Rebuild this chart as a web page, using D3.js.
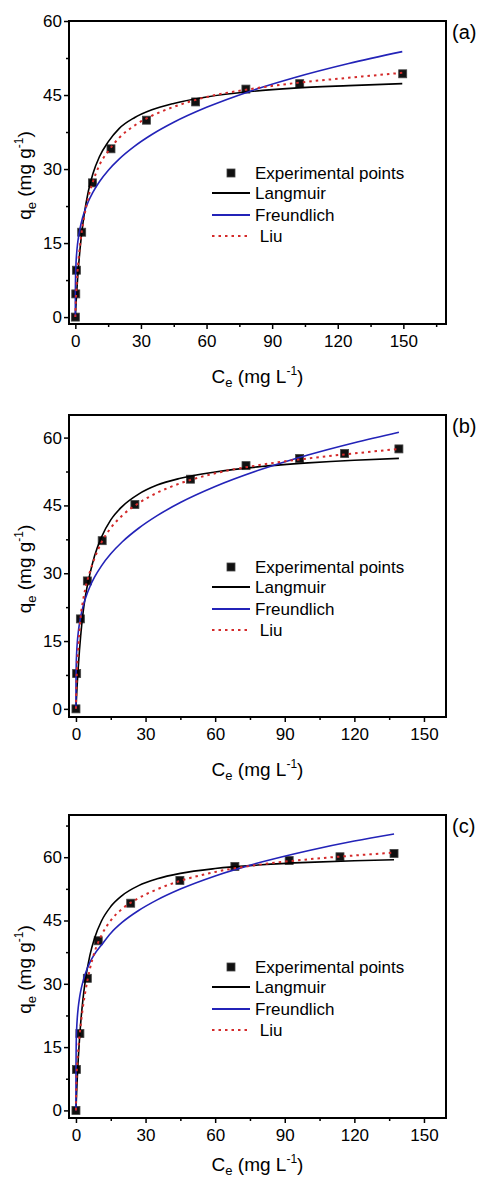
<!DOCTYPE html>
<html><head><meta charset="utf-8">
<script src="https://cdn.jsdelivr.net/npm/d3@7"></script>
<style>html,body{margin:0;padding:0;background:#fff;} svg{display:block;}</style>
</head><body><svg id="chart" width="481" height="1178"></svg>
<script>
// ---------- DATA ----------
const xTicks = [0, 30, 60, 90, 120, 150];
const xMinorTicks = [15, 45, 75, 105, 135, 165];
const yTicks = [0, 15, 30, 45, 60];
const yMinorTicks = [7.5, 22.5, 37.5, 52.5, 67.5];
const panelLabels = ["(a)", "(b)", "(c)"];
const seriesNames = ["Experimental points", "Langmuir", "Freundlich", " Liu"];

// (a)
const expC_a = [0, 0.2, 0.5, 2.9, 7.8, 16.3, 32.5, 55.0, 78.0, 102.6, 149.7];
const expQ_a = [0, 4.7, 9.5, 17.2, 27.2, 34.1, 39.9, 43.6, 46.2, 47.3, 49.3];
const fitC_a = [0, 0.01, 0.1, 0.3, 0.6, 1, 1.5, 2, 3, 4, 6, 8, 11, 15, 20, 27, 35, 45, 60, 80, 100, 125, 149.5];
const langmuir_a = [0, 0.09, 0.88, 2.54, 4.83, 7.55, 10.52, 13.09, 17.32, 20.66, 25.6, 29.0, 32.5, 35.5, 38.2, 40.4, 42.0, 43.3, 44.6, 45.7, 46.4, 46.9, 47.3];
const freundlich_a = [0, 4.5, 8.16, 10.83, 12.95, 14.78, 16.41, 17.67, 19.62, 21.13, 23.47, 25.27, 27.44, 29.72, 32.01, 34.59, 36.99, 39.47, 42.5, 45.78, 48.49, 51.37, 53.79];
const liu_a = [0, 0.3, 1.5, 3.8, 6.5, 9.2, 11.8, 14, 17.5, 20.2, 24.4, 27.4, 30.8, 33.6, 36.3, 38.8, 40.8, 42.6, 44.6, 46.2, 47.4, 48.5, 49.5];

// (b)
const expC_b = [0, 0.3, 1.9, 4.9, 11.3, 25.4, 49.4, 73.3, 96.4, 115.8, 139.2];
const expQ_b = [0, 7.8, 19.9, 28.3, 37.2, 45.2, 50.8, 53.8, 55.4, 56.5, 57.5];
const fitC_b = [0, 0.01, 0.1, 0.3, 0.6, 1, 1.5, 2, 3, 4, 6, 8, 11, 15, 20, 27, 35, 45, 60, 80, 100, 120, 139.2];
const langmuir_b = [0, 0.11, 1.08, 3.13, 5.94, 9.27, 12.87, 15.96, 21.02, 24.7, 29.8, 33.8, 38.0, 41.8, 44.8, 47.5, 49.5, 51.0, 52.4, 53.6, 54.4, 55.0, 55.4];
const freundlich_b = [0, 5.12, 9.32, 12.4, 14.85, 16.96, 18.85, 20.31, 22.57, 24.32, 27.02, 29.12, 31.63, 34.29, 36.96, 39.95, 42.74, 45.63, 49.17, 52.99, 56.16, 58.88, 61.2];
const liu_b = [0, 0.6, 3.2, 7, 10.5, 13.5, 17, 20.2, 23.8, 26.5, 30.3, 33.3, 36.8, 40.0, 42.8, 45.5, 47.8, 49.9, 52.1, 54.0, 55.4, 56.5, 57.5];

// (c)
const expC_c = [0, 0.2, 1.7, 4.9, 9.6, 23.6, 44.8, 68.5, 91.9, 113.8, 137.1];
const expQ_c = [0, 9.7, 18.2, 31.3, 40.2, 49.1, 54.5, 57.8, 59.2, 60.1, 60.9];
const fitC_c = [0, 0.001, 0.01, 0.1, 0.3, 0.6, 1, 1.5, 2, 3, 4, 6, 8, 11, 15, 20, 27, 35, 45, 60, 80, 100, 120, 137.1];
const langmuir_c = [0, 0.015, 0.15, 1.5, 4.28, 8.0, 12.27, 16.72, 20.43, 26.26, 30.63, 36.74, 40.8, 44.88, 48.3, 50.96, 53.26, 54.87, 56.16, 57.31, 58.2, 58.77, 59.15, 59.38];
const freundlich_c = [0, 6.2, 9.76, 15.46, 19.26, 22.12, 24.5, 26.57, 28.14, 30.52, 32.33, 35.06, 37.0, 39.2, 42.0, 44.6, 47.37, 49.89, 52.46, 55.57, 58.85, 61.54, 63.83, 65.5];
const liu_c = [0, 0.1, 0.8, 4, 8.5, 11.5, 14.5, 17.5, 20, 24.5, 28, 33.5, 37.5, 41.5, 45, 47.8, 50.3, 52.4, 54.4, 56.5, 58.3, 59.5, 60.4, 61.1];

// ---------- LAYOUT ----------
const FONT = "'Liberation Sans', Arial, Helvetica, sans-serif";
const W = 481, H = 1178;
const LEFT = 69, RIGHT = 446;
const COL_LANG = "#000000", COL_FREU = "#2323b8", COL_LIU = "#d42a2a";
const panels = [
  {label: panelLabels[0], top: 21, bottom: 324, xDom: [-2.9, 169.5], yDom: [-1.4, 60],
   expC: expC_a, expQ: expQ_a, fitC: fitC_a, lang: langmuir_a, freu: freundlich_a, liu: liu_a},
  {label: panelLabels[1], top: 415, bottom: 717, xDom: [-3.0, 159.5], yDom: [-1.8, 65],
   expC: expC_b, expQ: expQ_b, fitC: fitC_b, lang: langmuir_b, freu: freundlich_b, liu: liu_b},
  {label: panelLabels[2], top: 815, bottom: 1118, xDom: [-3.0, 159.5], yDom: [-1.8, 70],
   expC: expC_c, expQ: expQ_c, fitC: fitC_c, lang: langmuir_c, freu: freundlich_c, liu: liu_c}
];

const svg = d3.select("#chart");
svg.append("rect").attr("width", W).attr("height", H).attr("fill", "#fff");

panels.forEach((p, i) => {
  const x = d3.scaleLinear().domain(p.xDom).range([LEFT, RIGHT]);
  const y = d3.scaleLinear().domain(p.yDom).range([p.bottom, p.top]);
  const g = svg.append("g");
  const clipId = "clip" + i;
  svg.append("clipPath").attr("id", clipId).append("rect")
    .attr("x", LEFT).attr("y", p.top).attr("width", RIGHT - LEFT).attr("height", p.bottom - p.top);

  const inX = v => v >= p.xDom[0] && v <= p.xDom[1];
  const inY = v => v >= p.yDom[0] && v <= p.yDom[1];

  // axes
  const xAxis = d3.axisBottom(x).tickValues(xTicks.filter(inX)).tickSizeInner(5).tickSizeOuter(0)
    .tickPadding(6).tickFormat(d3.format("d"));
  const xMinor = d3.axisBottom(x).tickValues(xMinorTicks.filter(inX)).tickSizeInner(3).tickSizeOuter(0).tickFormat("");
  const yAxis = d3.axisLeft(y).tickValues(yTicks.filter(inY)).tickSizeInner(5).tickSizeOuter(0)
    .tickPadding(2).tickFormat(d3.format("d"));
  const yMinor = d3.axisLeft(y).tickValues(yMinorTicks.filter(inY)).tickSizeInner(3).tickSizeOuter(0).tickFormat("");

  [[xAxis, "x"], [xMinor, "x"], [yAxis, "y"], [yMinor, "y"]].forEach(([ax, t]) => {
    const a = g.append("g")
      .attr("transform", t === "x" ? `translate(0,${p.bottom})` : `translate(${LEFT},0)`)
      .call(ax);
    a.select(".domain").remove();
    a.selectAll("line").attr("stroke", "#000").attr("stroke-width", 1.5);
    a.selectAll("text").attr("font-family", FONT).attr("font-size", 17).attr("fill", "#000");
  });

  // box
  g.append("rect").attr("x", LEFT).attr("y", p.top).attr("width", RIGHT - LEFT).attr("height", p.bottom - p.top)
    .attr("fill", "none").attr("stroke", "#000").attr("stroke-width", 2);

  const plot = g.append("g").attr("clip-path", `url(#${clipId})`);

  // experimental points
  plot.selectAll("rect.pt").data(p.expC.map((c, j) => [c, p.expQ[j]])).join("rect")
    .attr("class", "pt")
    .attr("x", d => x(d[0]) - 4).attr("y", d => y(d[1]) - 4)
    .attr("width", 8).attr("height", 8)
    .attr("fill", "#111").attr("stroke", "#444").attr("stroke-width", 0.8);

  const line = d3.line().x(d => x(d[0])).y(d => y(d[1])).curve(d3.curveMonotoneX);
  const fits = [
    [p.lang, COL_LANG, null, 1.6],
    [p.freu, COL_FREU, null, 1.6],
    [p.liu, COL_LIU, "2.5,4", 2]
  ];
  fits.forEach(([vals, col, dash, w]) => {
    plot.append("path").datum(p.fitC.map((c, j) => [c, vals[j]]))
      .attr("d", line).attr("fill", "none").attr("stroke", col).attr("stroke-width", w)
      .attr("stroke-dasharray", dash);
  });

  // panel label
  g.append("text").attr("x", 452).attr("y", p.top + 18).attr("font-family", FONT).attr("font-size", 20)
    .attr("fill", "#000").text(p.label);

  // legend
  const lg = g.append("g").attr("font-family", FONT).attr("font-size", 17).attr("fill", "#000");
  lg.append("rect").attr("x", 231 - 4).attr("y", p.top + 152 - 4).attr("width", 8).attr("height", 8)
    .attr("fill", "#111").attr("stroke", "#444").attr("stroke-width", 0.8);
  lg.append("text").attr("x", 255).attr("y", p.top + 152).attr("dy", "0.35em").text(seriesNames[0]);
  const rows = [[COL_LANG, null, 2, 172, seriesNames[1]], [COL_FREU, null, 2, 194, seriesNames[2]], [COL_LIU, "2.5,4", 2, 215, seriesNames[3]]];
  rows.forEach(([col, dash, w, dy, name]) => {
    lg.append("line").attr("x1", 212).attr("x2", 250).attr("y1", p.top + dy).attr("y2", p.top + dy)
      .attr("stroke", col).attr("stroke-width", w).attr("stroke-dasharray", dash);
    lg.append("text").attr("x", 255).attr("y", p.top + dy).attr("dy", "0.35em")
      .attr("xml:space", "preserve").style("white-space", "pre").text(name);
  });

  // x title (kept inside the page at the very bottom)
  const xt = g.append("text").attr("x", (LEFT + RIGHT) / 2).attr("y", Math.min(p.bottom + 59, H - 7))
    .attr("text-anchor", "middle").attr("font-family", FONT).attr("font-size", 19).attr("fill", "#000");
  xt.append("tspan").text("C");
  xt.append("tspan").attr("font-size", 13).attr("dy", 4).text("e");
  xt.append("tspan").attr("dy", -4).text(" (mg L");
  xt.append("tspan").attr("font-size", 12).attr("dy", -8).text("-1");
  xt.append("tspan").attr("dy", 8).text(")");

  // y title
  const cy = (p.top + p.bottom) / 2 + 3;
  const yt = g.append("text").attr("transform", `translate(31,${cy}) rotate(-90)`)
    .attr("text-anchor", "middle").attr("font-family", FONT).attr("font-size", 19).attr("fill", "#000");
  yt.append("tspan").text("q");
  yt.append("tspan").attr("font-size", 13).attr("dy", 5).text("e");
  yt.append("tspan").attr("dy", -5).text(" (mg g");
  yt.append("tspan").attr("font-size", 12).attr("dy", -8).text("-1");
  yt.append("tspan").attr("dy", 8).text(")");
});
</script>
</body></html>
